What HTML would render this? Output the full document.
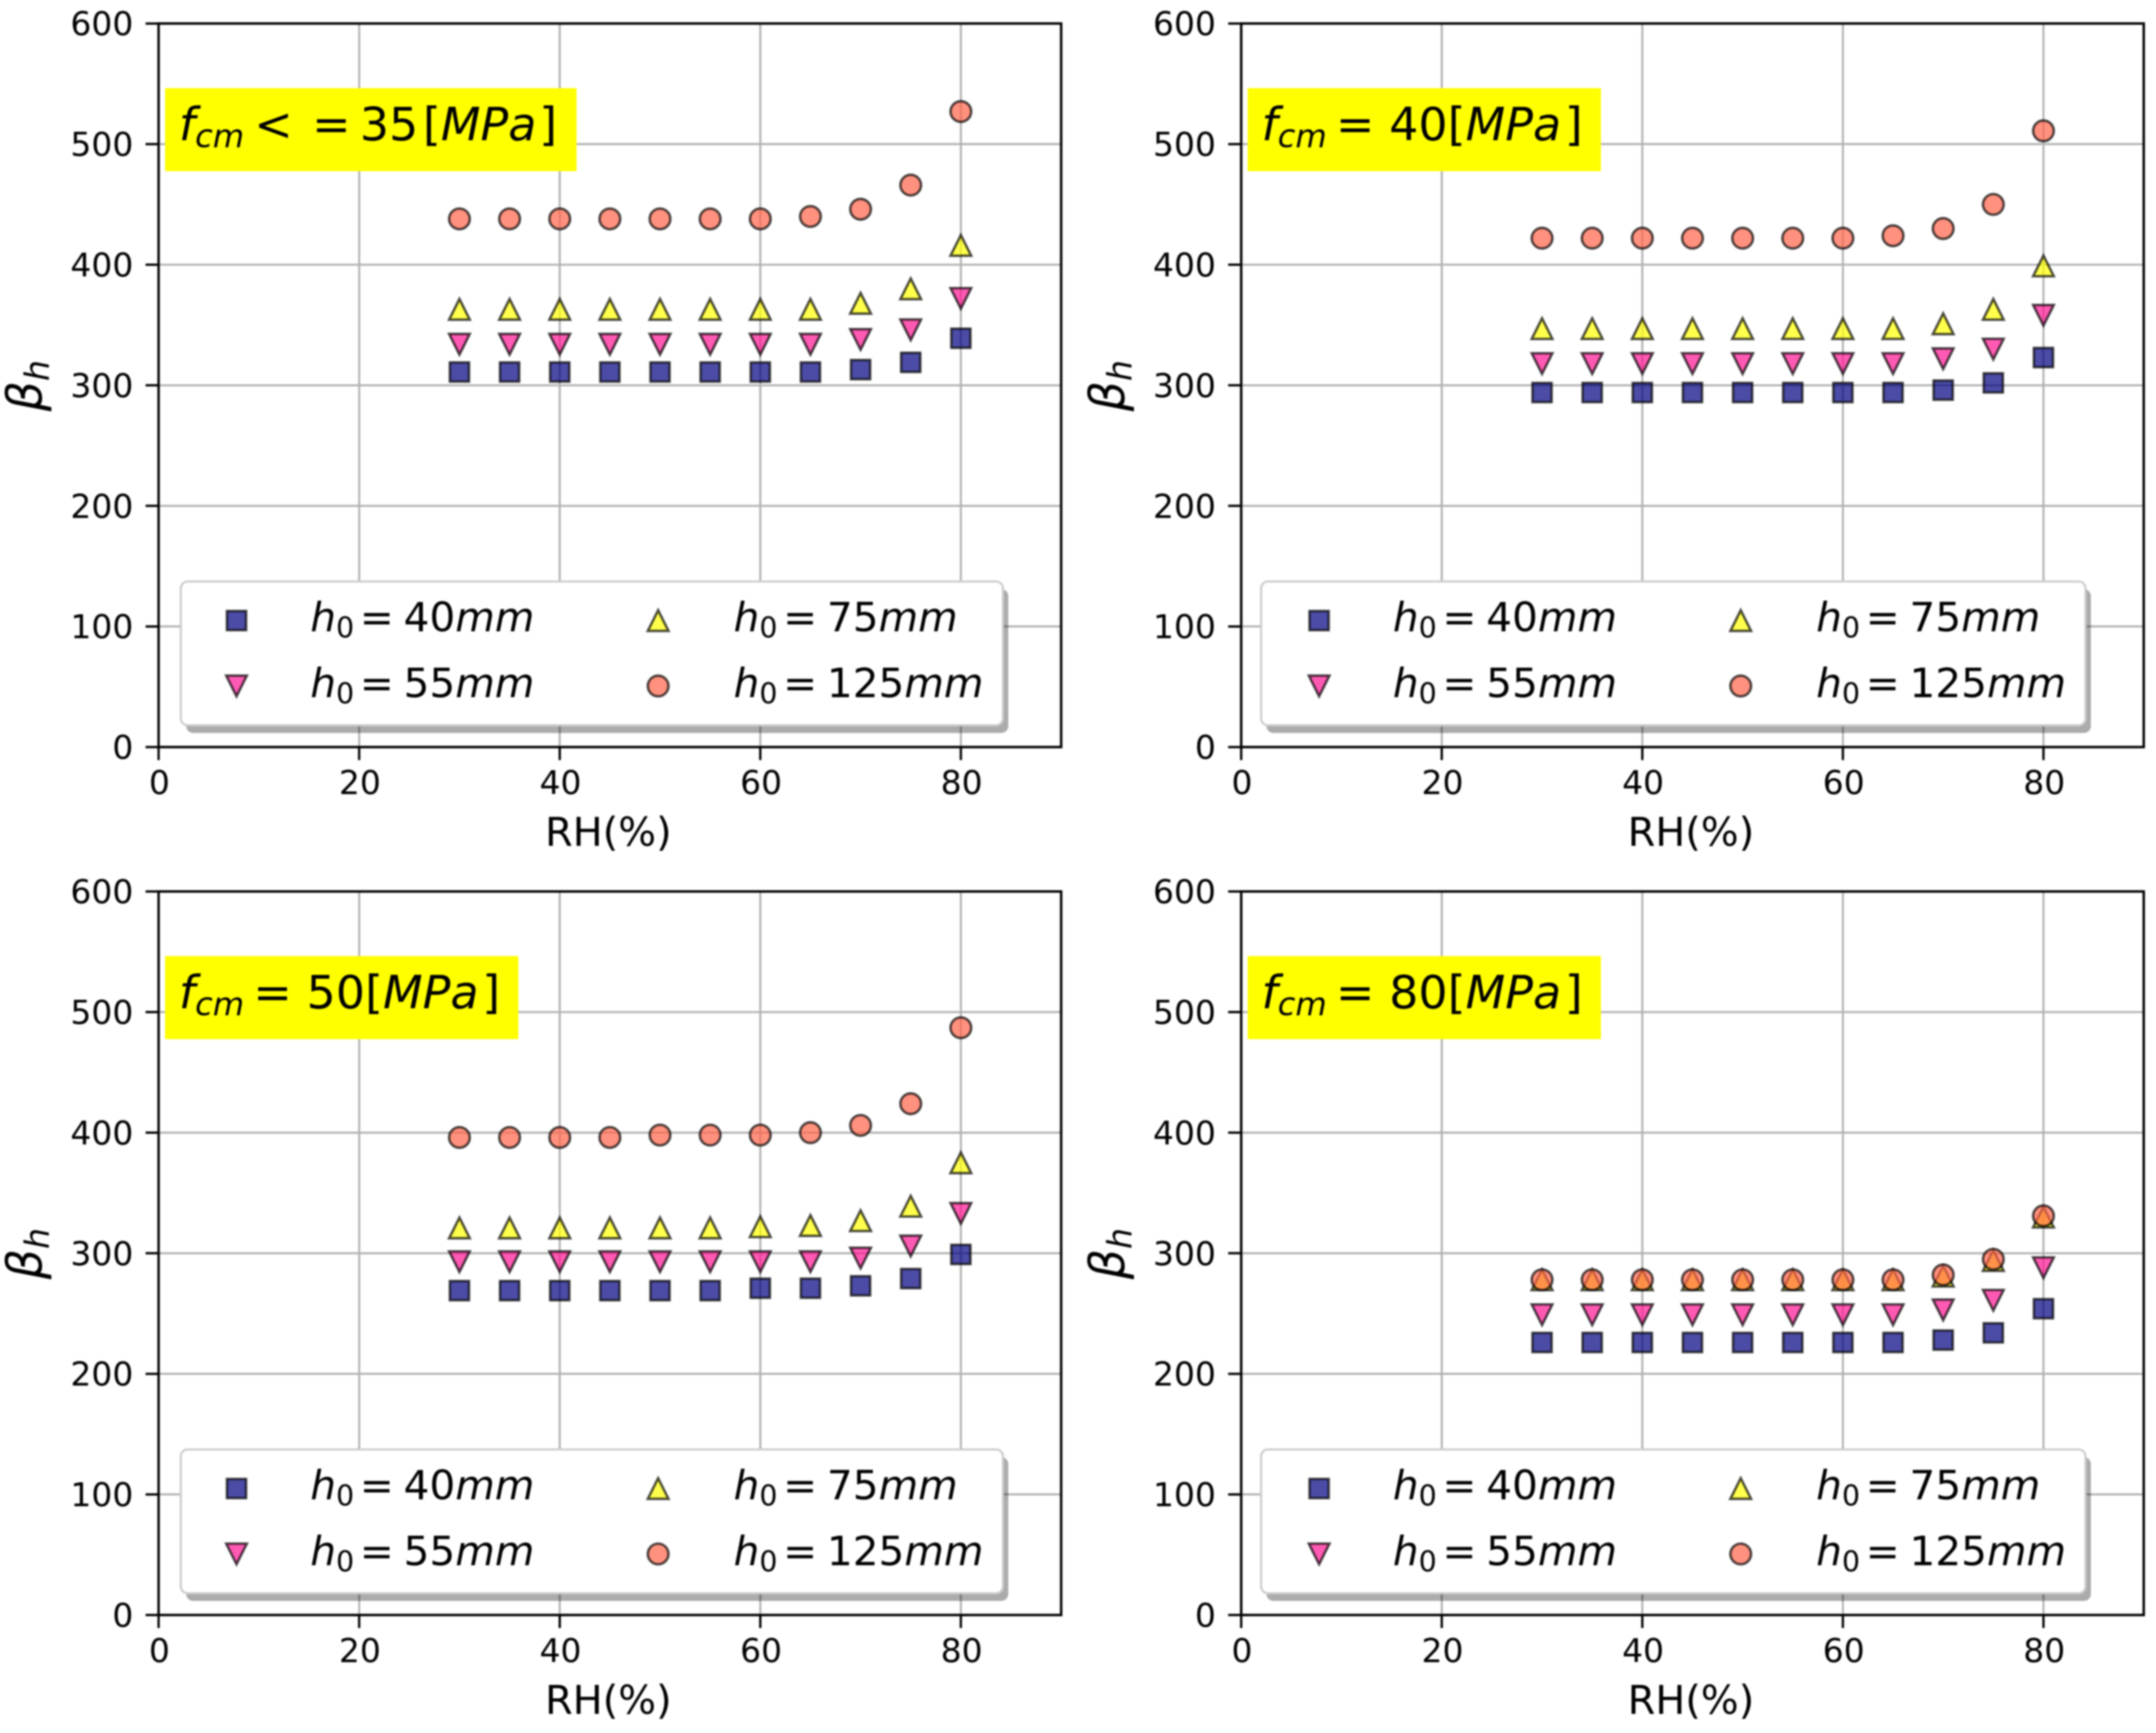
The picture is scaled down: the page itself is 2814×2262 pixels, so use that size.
<!DOCTYPE html>
<html lang="en">
<head>
<meta charset="utf-8">
<title>Beta h versus relative humidity</title>
<style>
html,body{margin:0;padding:0;background:#fff;width:2814px;height:2262px;overflow:hidden}
svg{display:block;filter:blur(1px)}
text{font-family:"DejaVu Sans","Liberation Sans",sans-serif;fill:#000}
</style>
</head>
<body>
<svg id="figure" xmlns="http://www.w3.org/2000/svg" width="2814" height="2262" viewBox="0 0 2814 2262"></svg>
<script>
const rhValues = [30, 35, 40, 45, 50, 55, 60, 65, 70, 75, 80];
const xTickValues = [0, 20, 40, 60, 80];
const yTickValues = [0, 100, 200, 300, 400, 500, 600];

const panel1H40 = [311, 311, 311, 311, 311, 311, 311, 311, 313, 319, 339];
const panel1H55 = [334, 334, 334, 334, 334, 334, 334, 334, 338, 346, 372];
const panel1H75 = [363, 363, 363, 363, 363, 363, 363, 363, 368, 380, 416];
const panel1H125 = [438, 438, 438, 438, 438, 438, 438, 440, 446, 466, 527];

const panel2H40 = [294, 294, 294, 294, 294, 294, 294, 294, 296, 302, 323];
const panel2H55 = [318, 318, 318, 318, 318, 318, 318, 318, 322, 330, 358];
const panel2H75 = [347, 347, 347, 347, 347, 347, 347, 347, 351, 363, 399];
const panel2H125 = [422, 422, 422, 422, 422, 422, 422, 424, 430, 450, 511];

const panel3H40 = [269, 269, 269, 269, 269, 269, 271, 271, 273, 279, 299];
const panel3H55 = [293, 293, 293, 293, 293, 293, 293, 293, 296, 306, 333];
const panel3H75 = [321, 321, 321, 321, 321, 321, 322, 323, 327, 339, 375];
const panel3H125 = [396, 396, 396, 396, 398, 398, 398, 400, 406, 424, 487];

const panel4H40 = [226, 226, 226, 226, 226, 226, 226, 226, 228, 234, 254];
const panel4H55 = [249, 249, 249, 249, 249, 249, 249, 249, 253, 261, 288];
const panel4H75 = [278, 278, 278, 278, 278, 278, 278, 278, 281, 294, 330];
const panel4H125 = [278, 278, 278, 278, 278, 278, 278, 278, 282, 295, 331];

const seriesKeys = ['h0-40mm', 'h0-55mm', 'h0-75mm', 'h0-125mm'];
const seriesShapes = ['square', 'down', 'up', 'circle'];
const seriesColors = ['navy', 'deeppink', 'yellow', 'tomato'];
const legendNumbers = ['40', '55', '75', '125'];

const SVG_NS = 'http://www.w3.org/2000/svg';
const figure = document.getElementById('figure');
const AXES_W = 1178, AXES_H = 944.4, X_MAX = 90, Y_MAX = 600, MARKER_R = 13.5;

function make(tag, attrs, parent) {
  const el = document.createElementNS(SVG_NS, tag);
  for (const k in attrs) el.setAttribute(k, attrs[k]);
  parent.appendChild(el);
  return el;
}
function xScale(v, left) { return left + v / X_MAX * AXES_W; }
function yScale(v, top) { return top + AXES_H - v / Y_MAX * AXES_H; }

function drawMarker(parent, shape, color, x, y, name) {
  const style = { fill: color, 'fill-opacity': 0.7, stroke: '#000', 'stroke-opacity': 0.7, 'stroke-width': 3.2 };
  const r = MARKER_R;
  let el;
  if (shape === 'square') {
    el = make('rect', Object.assign({ x: x - r + 1, y: y - r + 1, width: 2 * r - 2, height: 2 * r - 2 }, style), parent);
  } else if (shape === 'circle') {
    el = make('circle', Object.assign({ cx: x, cy: y, r: r }, style), parent);
  } else {
    const s = shape === 'up' ? 1 : -1;
    const pts = [x, y - s * r, x - r, y + s * r, x + r, y + s * r].join(' ');
    el = make('polygon', Object.assign({ points: pts }, style), parent);
  }
  
  
  return el;
}

/* segments: [text, kind, gapBeforeInEm]; kind: r roman, i italic, si subscript italic, sr subscript roman */
function mathText(parent, x, y, size, segments, name) {
  const t = make('text', { x: x, y: y, 'font-size': size }, parent);
  
  
  let down = false;
  segments.forEach(function (seg) {
    const sub = seg[1].charAt(0) === 's';
    const ital = seg[1].indexOf('i') >= 0;
    const span = make('tspan', {}, t);
    span.textContent = seg[0];
    if (ital) span.setAttribute('font-style', 'italic');
    if (sub) span.setAttribute('font-size', size * 0.7);
    let dy = 0;
    if (sub && !down) { dy = size * 0.15; down = true; }
    if (!sub && down) { dy = -size * 0.15; down = false; }
    if (dy) span.setAttribute('dy', dy);
    if (seg[2]) span.setAttribute('dx', seg[2] * size);
  });
  return t;
}

function drawPanel(left, top, seriesValues, labelWidth, labelSegments, legendLeft, panelName) {
  const g = make('g', {}, figure);
  
  
  const right = left + AXES_W, bottom = top + AXES_H;

  xTickValues.forEach(function (v) {
    const x = xScale(v, left);
    const grid = make('line', { x1: x, x2: x, y1: top, y2: bottom, stroke: '#b0b0b0', 'stroke-width': 2.6 }, g);
    
    
  });
  yTickValues.forEach(function (v) {
    const y = yScale(v, top);
    const grid = make('line', { x1: left, x2: right, y1: y, y2: y, stroke: '#b0b0b0', 'stroke-width': 2.6 }, g);
    
    
  });

  seriesValues.forEach(function (vals, si) {
    vals.forEach(function (v, i) {
      drawMarker(g, seriesShapes[si], seriesColors[si], xScale(rhValues[i], left), yScale(v, top), seriesKeys[si] + '-point');
    });
  });

  const frame = make('rect', { x: left, y: top, width: AXES_W, height: AXES_H, fill: 'none', stroke: '#000', 'stroke-width': 3.2 }, g);
  
  

  xTickValues.forEach(function (v) {
    const x = xScale(v, left);
    const tick = make('line', { x1: x, x2: x, y1: bottom, y2: bottom + 17, stroke: '#000', 'stroke-width': 3 }, g);
    
    
    const lab = make('text', { x: x + 1, y: bottom + 61.5, 'font-size': 43, 'text-anchor': 'middle' }, g);
    lab.textContent = v;
    
    
  });
  yTickValues.forEach(function (v) {
    const y = yScale(v, top);
    const tick = make('line', { x1: left - 17, x2: left, y1: y, y2: y, stroke: '#000', 'stroke-width': 3 }, g);
    
    
    const lab = make('text', { x: left - 33, y: y + 15.5, 'font-size': 43, 'text-anchor': 'end' }, g);
    lab.textContent = v;
    
    
  });

  const xTitle = make('text', { x: left + AXES_W / 2 - 2, y: bottom + 129, 'font-size': 52, 'text-anchor': 'middle' }, g);
  xTitle.textContent = 'RH(%)';
  
  

  const yHolder = make('g', { transform: 'translate(' + (left - 153) + ' ' + (top + AXES_H / 2 + 34) + ') rotate(-90)' }, g);
  
  
  mathText(yHolder, 0, 0, 62, [['β', 'i'], ['h', 'si']], 'y-axis-title');

  const labelBg = make('rect', { x: left + 8.5, y: top + 84.3, width: labelWidth, height: 108.4, fill: '#ffff00' }, g);
  
  
  mathText(g, left + 26.5, top + 152.3, 60, labelSegments, 'strength-label');

  const lx = left + legendLeft, ly = top + 728.3, lw = 1102 - legendLeft, lh = 187.7;
  const legend = make('g', {}, g);
  
  
  const shadow = make('rect', { x: lx + 7, y: ly + 10, width: lw, height: lh, rx: 9, fill: '#000', 'fill-opacity': 0.33 }, legend);
  
  
  const box = make('rect', { x: lx, y: ly, width: lw, height: lh, rx: 9, fill: '#fff', stroke: '#cccccc', 'stroke-width': 2.8 }, legend);
  
  

  seriesKeys.forEach(function (key, si) {
    const col = si < 2 ? 0 : 1, row = si % 2;
    const mx = left + (col === 0 ? 101.7 : 652);
    const tx = left + (col === 0 ? 198 : 750.5);
    drawMarker(legend, seriesShapes[si], seriesColors[si], mx, top + (row === 0 ? 779.3 : 864.7), 'legend-marker-' + key);
    mathText(legend, tx, top + (row === 0 ? 793.3 : 879.3), 53,
      [['h', 'i'], ['0', 'sr'], ['=', 'r', 0.14], [legendNumbers[si], 'r', 0.24], ['mm', 'i']],
      'legend-label-' + key);
  });
}

const labelPanel1 = [['f', 'i'], ['cm', 'si'], ['<', 'r', 0.22], ['=', 'r', 0.42], ['35', 'r', 0.2], ['[', 'r', 0.1], ['MPa', 'i'], [']', 'r', 0.06]];
const labelPanel2 = [['f', 'i'], ['cm', 'si'], ['=', 'r', 0.2], ['40', 'r', 0.32], ['[', 'r'], ['MPa', 'i'], [']', 'r', 0.08]];
const labelPanel3 = [['f', 'i'], ['cm', 'si'], ['=', 'r', 0.2], ['50', 'r', 0.32], ['[', 'r'], ['MPa', 'i'], [']', 'r', 0.08]];
const labelPanel4 = [['f', 'i'], ['cm', 'si'], ['=', 'r', 0.2], ['80', 'r', 0.32], ['[', 'r'], ['MPa', 'i'], [']', 'r', 0.08]];

drawPanel(207, 30.7, [panel1H40, panel1H55, panel1H75, panel1H125], 537, labelPanel1, 29, 'panel-fcm-35');
drawPanel(1620, 30.7, [panel2H40, panel2H55, panel2H75, panel2H125], 461, labelPanel2, 26, 'panel-fcm-40');
drawPanel(207, 1163.6, [panel3H40, panel3H55, panel3H75, panel3H125], 461, labelPanel3, 29, 'panel-fcm-50');
drawPanel(1620, 1163.6, [panel4H40, panel4H55, panel4H75, panel4H125], 461, labelPanel4, 26, 'panel-fcm-80');
</script>
</body>
</html>
